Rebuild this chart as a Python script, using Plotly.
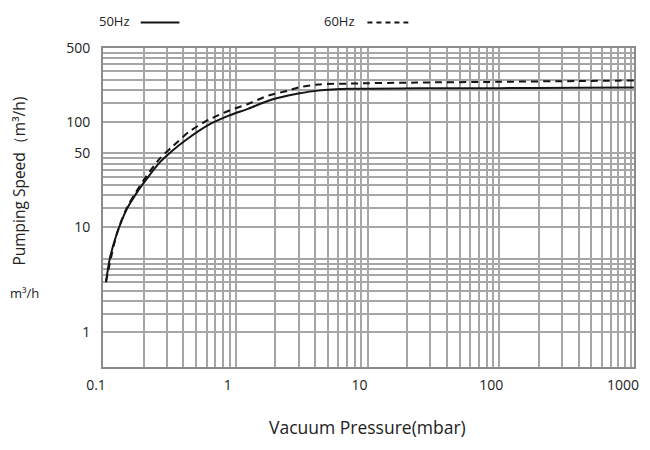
import plotly.graph_objects as go

# pressure (mbar) and pumping speed (m3/h)
pressure_50 = [0.1035, 0.111, 0.125, 0.149, 0.177, 0.211, 0.264, 0.330, 0.421, 0.626, 0.886,
               1.25, 1.77, 2.50, 2.98, 4.21, 7.45, 23.8, 100, 400, 1050]
speed_50 = [3.0, 5.1, 8.6, 14.8, 21.1, 28.6, 40.8, 53.0, 67.4, 93.6, 114,
            133, 158, 177, 185, 197, 205, 207, 208, 210, 211]

pressure_60 = [0.1035, 0.125, 0.149, 0.177, 0.211, 0.264, 0.330, 0.443, 0.626, 0.886,
               1.25, 1.77, 2.50, 2.98, 4.21, 7.45, 23.8, 100, 400, 1050]
speed_60 = [3.0, 8.6, 15.2, 22.0, 30.6, 44.4, 57.8, 80.3, 104.5, 127,
            148, 177, 197, 211, 225, 230, 235, 239, 243, 246]

x_ticks = [0.1, 1, 10, 100, 1000]
x_labels = ["0.1", "1", "10", "100", "1000"]
y_ticks = [1, 10, 50, 100, 500]
y_labels = ["1", "10", "50", "100", "500"]

FONT = "Open Sans"
GRID = "#a6a6a6"
FRAME = "#8c8c8c"
INK = "#141414"

# grid: 2..9 per decade on x, 1.5..5 per decade on y (as in the original sheet)
minor_x = [k * 10 ** n for n in range(-2, 4) for k in range(2, 10)]
minor_y = [round(k * 10 ** n, 3) for n in range(0, 3) for k in (1.5, 2, 2.5, 3, 3.5, 4, 4.5, 5)]
minor_y = [v for v in minor_y if v not in y_ticks]

fig = go.Figure()
fig.add_trace(go.Scatter(x=pressure_50, y=speed_50, mode="lines", name="50Hz",
                         line=dict(color=INK, width=2, shape="spline", smoothing=0.8)))
fig.add_trace(go.Scatter(x=pressure_60, y=speed_60, mode="lines", name="60Hz",
                         line=dict(color=INK, width=2, dash="7px,5px", shape="spline", smoothing=0.8)))

# key drawn as text followed by a line sample, like the original
fig.add_annotation(x=0.054, y=1.085, xref="paper", yref="paper", xanchor="right", yanchor="middle",
                   text="50Hz", showarrow=False, font=dict(family=FONT, size=13, color="#222"))
fig.add_shape(type="line", xref="paper", yref="paper", x0=0.071, x1=0.144, y0=1.08, y1=1.08,
              line=dict(color=INK, width=2))
fig.add_annotation(x=0.479, y=1.085, xref="paper", yref="paper", xanchor="right", yanchor="middle",
                   text="60Hz", showarrow=False, font=dict(family=FONT, size=13, color="#222"))
fig.add_shape(type="line", xref="paper", yref="paper", x0=0.498, x1=0.575, y0=1.08, y1=1.08,
              line=dict(color=INK, width=2, dash="5px,4px"))

# axis titles
fig.add_annotation(x=-0.159, y=0.583, xref="paper", yref="paper", xanchor="center", yanchor="middle",
                   text="Pumping Speed（m³/h)", textangle=-90, showarrow=False,
                   font=dict(family=FONT, size=15.5, color="#222"))
fig.add_annotation(x=-0.147, y=0.232, xref="paper", yref="paper", xanchor="center", yanchor="middle",
                   text="m³/h", showarrow=False, font=dict(family=FONT, size=13, color="#222"))
fig.add_annotation(x=0.498, y=-0.188, xref="paper", yref="paper", xanchor="center", yanchor="middle",
                   text="Vacuum Pressure(mbar)", showarrow=False,
                   font=dict(family=FONT, size=17.5, color="#222"))

# page body adds an 8px margin, so the figure is 8px smaller than the window
fig.update_layout(
    width=642, height=442,
    margin=dict(l=95, r=11, t=40, b=83),
    paper_bgcolor="white", plot_bgcolor="white",
    showlegend=False,
    font=dict(family=FONT, color="#222"),
)
fig.update_xaxes(
    type="log", range=[-1.0075, 3.0224],
    tickvals=x_ticks, ticktext=x_labels, ticks="",
    tickfont=dict(size=14), ticklabelstandoff=4, ticklabelshift=-8,
    showgrid=True, gridcolor=GRID, gridwidth=1.5,
    minor=dict(tickvals=minor_x, showgrid=True, gridcolor=GRID, gridwidth=1.5, ticks=""),
    showline=True, linecolor=FRAME, linewidth=2, mirror=True,
    zeroline=False,
)
fig.update_yaxes(
    type="log", range=[-0.328, 2.699],
    tickvals=y_ticks, ticktext=y_labels, ticks="",
    tickfont=dict(size=14), ticklabelstandoff=8,
    showgrid=True, gridcolor=GRID, gridwidth=1.5,
    minor=dict(tickvals=minor_y, showgrid=True, gridcolor=GRID, gridwidth=1.5, ticks=""),
    showline=True, linecolor=FRAME, linewidth=2, mirror=True,
    zeroline=False,
)

fig.write_html("out.html")
